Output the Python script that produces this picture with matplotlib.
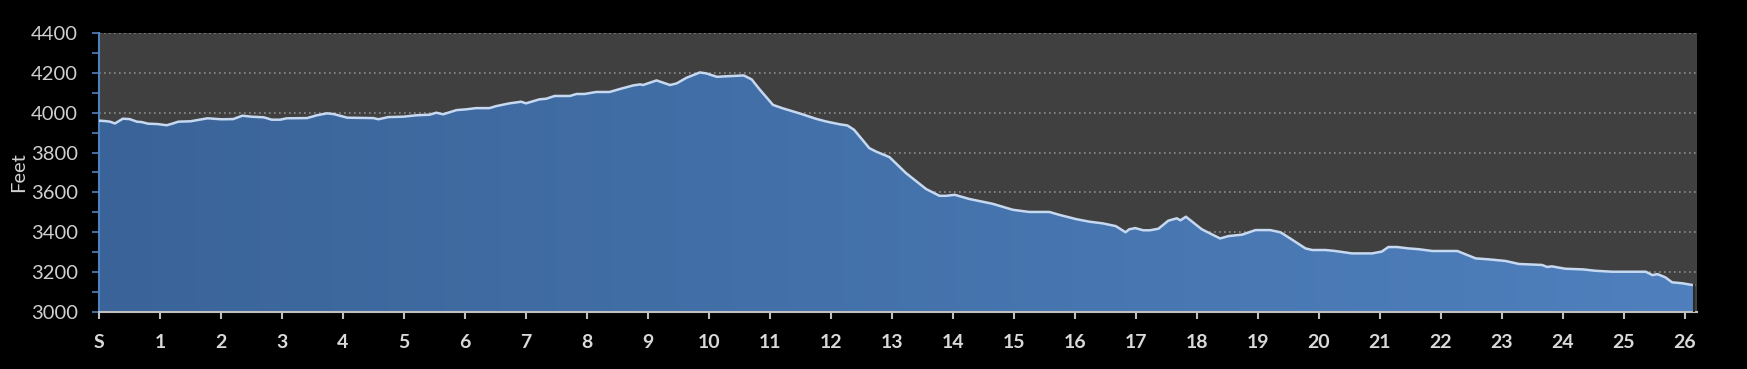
import numpy as np
import matplotlib
matplotlib.use('Agg')
import matplotlib.pyplot as plt
from matplotlib.colors import LinearSegmentedColormap

plt.rcParams['font.family'] = ['Lato', 'DejaVu Sans']

# elevation profile (mile, feet)
miles = [0.0, 0.1, 0.18, 0.26, 0.39, 0.5, 0.62, 0.7, 0.8, 0.96, 1.11, 1.2, 1.3, 1.5,
         1.78, 2.0, 2.2, 2.35, 2.5, 2.7, 2.83, 2.97, 3.08, 3.41, 3.57, 3.74, 3.85,
         4.07, 4.5, 4.58, 4.74, 4.99, 5.2, 5.42, 5.53, 5.64, 5.86, 6.02, 6.18, 6.4,
         6.51, 6.73, 6.92, 7.0, 7.22, 7.33, 7.47, 7.72, 7.83, 7.96, 8.15, 8.37, 8.54,
         8.76, 8.87, 8.92, 9.14, 9.36, 9.47, 9.63, 9.85, 9.96, 10.13, 10.24, 10.57,
         10.7, 10.83, 11.05, 11.21, 11.48, 11.76, 11.92, 12.14, 12.27, 12.38, 12.63,
         12.74, 12.96, 13.23, 13.56, 13.78, 13.89, 14.03, 14.27, 14.65, 14.98, 15.25,
         15.58, 15.75, 16.02, 16.24, 16.45, 16.67, 16.83, 16.89, 16.99, 17.12, 17.23,
         17.37, 17.53, 17.67, 17.73, 17.82, 18.08, 18.38, 18.52, 18.74, 18.96, 19.2,
         19.37, 19.53, 19.78, 19.89, 20.11, 20.27, 20.54, 20.87, 21.03, 21.14, 21.28,
         21.47, 21.64, 21.86, 22.27, 22.4, 22.57, 22.79, 23.06, 23.28, 23.66, 23.74,
         23.82, 24.04, 24.32, 24.53, 24.81, 25.36, 25.47, 25.55, 25.68, 25.79, 25.96,
         26.15]
feet = [3960, 3958, 3955, 3946, 3970, 3968, 3955, 3953, 3945, 3943, 3937, 3945, 3955, 3957,
        3972, 3967, 3968, 3985, 3980, 3977, 3965, 3965, 3972, 3973, 3987, 3997, 3993,
        3975, 3973, 3967, 3978, 3980, 3987, 3990, 4000, 3992, 4013, 4017, 4023, 4023,
        4033, 4047, 4055, 4047, 4067, 4070, 4084, 4084, 4094, 4094, 4104, 4104, 4119,
        4137, 4142, 4139, 4162, 4139, 4147, 4175, 4202, 4197, 4180, 4182, 4187,
        4167, 4117, 4039, 4022, 3997, 3969, 3956, 3942, 3936, 3914, 3822,
        3805, 3777, 3697, 3617, 3583, 3583, 3588, 3567, 3543, 3513, 3502,
        3502, 3487, 3466, 3453, 3445, 3431, 3400, 3415, 3421, 3410, 3410,
        3418, 3458, 3470, 3460, 3478, 3415, 3369, 3381, 3388, 3411, 3411,
        3400, 3369, 3319, 3311, 3311, 3306, 3294, 3294, 3303, 3326, 3326,
        3319, 3315, 3306, 3306, 3290, 3269, 3264, 3256, 3241, 3236, 3226,
        3229, 3217, 3214, 3207, 3202, 3202, 3185, 3190, 3174, 3149, 3144,
        3134]

xticks = list(range(27))
xlabels = ['S'] + [str(i) for i in range(1, 27)]
yticks = [3000, 3200, 3400, 3600, 3800, 4000, 4200, 4400]

fig = plt.figure(figsize=(17.47, 3.69), dpi=100, facecolor='black')
ax = fig.add_axes([0.0567, 0.1545, 0.9147, 0.7561])
ax.set_facecolor('#404040')

ax.set_xlim(0, 26.2)
ax.set_ylim(3000, 4400)

for y in yticks[1:]:
    ax.axhline(y, color='#8c8c8c', lw=1.2, ls=(0, (1, 2)), zorder=1)

poly = ax.fill_between(miles, feet, 3000, color='none', zorder=2)
cmap = LinearSegmentedColormap.from_list('g', ['#3a6499', '#4f80bd'])
grad = np.linspace(0, 1, 256).reshape(1, -1)
im = ax.imshow(grad, cmap=cmap, aspect='auto', extent=[0, 26.2, 3000, 4400],
               zorder=2, interpolation='bilinear')
im.set_clip_path(poly.get_paths()[0], transform=ax.transData)
ax.plot(miles, feet, color='#c6d9f1', lw=1.8, zorder=3)
ax.plot([miles[-1], miles[-1]], [feet[-1], 3000], color='#2a2a2a', lw=1.5, zorder=3)

ax.set_xticks(xticks)
ax.set_xticklabels(xlabels, fontsize=14, fontweight='bold', color='#d9d9d9')
ax.set_yticks(yticks)
ax.set_yticks(np.arange(3100, 4400, 200), minor=True)
ax.set_yticklabels([str(v) for v in yticks], fontsize=14.5, color='#d0d0d0')
ax.tick_params(axis='x', direction='out', length=5, width=1.5, color='#c0c0c0', pad=11)
ax.tick_params(axis='y', which='both', direction='out', length=5, width=1.2,
               color='#4f81bd', pad=10)

for s in ['top', 'right']:
    ax.spines[s].set_visible(False)
ax.spines['left'].set_color('#4f81bd')
ax.spines['left'].set_linewidth(1.5)
ax.spines['bottom'].set_color('#c0c0c0')
ax.spines['bottom'].set_linewidth(1.5)

ax.set_ylabel('Feet', fontsize=14.5, color='#d0d0d0', labelpad=3)

fig.savefig('out.png', dpi=100, facecolor='black')
